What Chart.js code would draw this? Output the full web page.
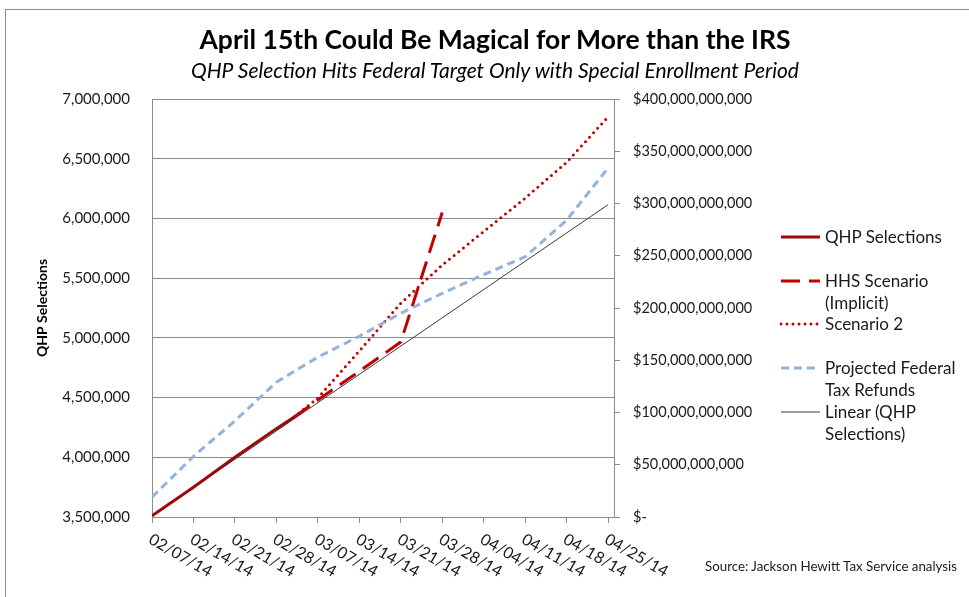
<!DOCTYPE html>
<html>
<head>
<meta charset="utf-8">
<script src="https://cdn.jsdelivr.net/npm/chart.js@4.4.1/dist/chart.umd.min.js"></script>
<style>
  html, body { margin: 0; padding: 0; background: #fff; }
  #wrap { position: relative; width: 969px; height: 597px; overflow: hidden; font-family: Lato, "Open Sans", sans-serif; color: #1a1a1a; }
  #frame { position: absolute; left: 5px; top: 9px; right: -3px; bottom: -3px; border-left: 1px solid #8c8c8c; border-top: 1px solid #8c8c8c; }
  #chart { position: absolute; left: 0; top: 0; }
  .head { position: absolute; left: 95px; width: 800px; text-align: center; white-space: nowrap; color: #000; }
  #title { top: 23px; font-size: 26.5px; font-weight: bold; }
  #subtitle { top: 57px; font-size: 21px; font-style: italic; }
  #legend { position: absolute; left: 780px; top: 226px; font-size: 17px; }
  .leg-item { display: flex; height: 43.7px; line-height: 22px; }
  .leg-item svg { flex: none; margin-right: 5px; }
  #source { position: absolute; left: 705px; top: 558px; font-size: 13.3px; }
</style>
</head>
<body>
<div id="wrap">
  <div id="frame"></div>
  <canvas id="chart" width="969" height="597"></canvas>
  <div id="title" class="head">April 15th Could Be Magical for More than the IRS</div>
  <div id="subtitle" class="head">QHP Selection Hits Federal Target Only with Special Enrollment Period</div>
  <div id="legend"></div>
  <div id="source">Source: Jackson Hewitt Tax Service analysis</div>
</div>
<script>
// weekly tick dates on the x axis (Excel date axis, runs one day past the last tick)
const TICK_DATES = ["02/07/14", "02/14/14", "02/21/14", "02/28/14", "03/07/14", "03/14/14",
  "03/21/14", "03/28/14", "04/04/14", "04/11/14", "04/18/14", "04/25/14"];
const AXIS_END_DATE = "04/26/14";

const QHP_DATES = ["02/07/14", "02/14/14", "02/21/14", "02/28/14", "03/03/14"];
const QHP_VALUES = [3510000, 3750000, 4000000, 4240000, 4337000];

const HHS_DATES = ["03/03/14", "03/07/14", "03/14/14", "03/21/14", "03/28/14"];
const HHS_VALUES = [4337000, 4480000, 4720000, 4965000, 6050000];

const SCEN2_DATES = ["03/03/14", "03/07/14", "03/14/14", "03/21/14", "03/28/14",
  "04/04/14", "04/11/14", "04/18/14", "04/25/14"];
const SCEN2_VALUES = [4337000, 4496000, 4890000, 5290000, 5610000, 5890000, 6170000, 6470000, 6850000];

// projected federal tax refunds, cumulative dollars (right axis)
const REFUND_DATES = TICK_DATES;
const REFUND_VALUES = [19e9, 58e9, 92e9, 129e9, 153e9, 173e9, 195e9, 214e9, 232e9, 249e9, 284e9, 334e9];

const TREND_DATES = ["02/07/14", "04/25/14"];
const TREND_VALUES = [3510000, 6115000];

const LEGEND_LABELS = ["QHP Selections", "HHS Scenario (Implicit)", "Scenario 2",
  "Projected Federal Tax Refunds", "Linear (QHP Selections)"];

const GRID = "#8c8c8c";
const FONT = "Lato, 'Open Sans', sans-serif";

function dayOf(s) {
  const [m, d] = s.split("/").map(Number);
  return (Date.UTC(2014, m - 1, d) - Date.UTC(2014, 1, 7)) / 86400000;
}

function pts(dates, values) {
  return dates.map((d, i) => ({ x: dayOf(d), y: values[i] }));
}

// Excel draws these labels slanting down to the right from each tick
const slantedDates = {
  id: "slantedDates",
  afterDraw(chart) {
    const sc = chart.scales.x;
    const ctx = chart.ctx;
    ctx.save();
    ctx.font = "16px " + FONT;
    ctx.fillStyle = "#1a1a1a";
    ctx.textAlign = "left";
    ctx.textBaseline = "top";
    sc.ticks.forEach((t, i) => {
      ctx.save();
      ctx.translate(sc.getPixelForValue(t.value) + 2, sc.top + 14);
      ctx.rotate(Math.PI / 6);
      ctx.fillText(TICK_DATES[i], 0, 0);
      ctx.restore();
    });
    ctx.restore();
  },
};

const datasets = [
  { label: LEGEND_LABELS[0], data: pts(QHP_DATES, QHP_VALUES), yAxisID: "y",
    borderColor: "#9a0a0a", borderWidth: 3, order: 1 },
  { label: LEGEND_LABELS[1], data: pts(HHS_DATES, HHS_VALUES), yAxisID: "y",
    borderColor: "#c00000", borderWidth: 3, borderDash: [19, 9], order: 2 },
  { label: LEGEND_LABELS[2], data: pts(SCEN2_DATES, SCEN2_VALUES), yAxisID: "y",
    borderColor: "#c00000", borderWidth: 3, borderDash: [0, 6], borderCapStyle: "round", order: 3 },
  { label: LEGEND_LABELS[3], data: pts(REFUND_DATES, REFUND_VALUES), yAxisID: "y2",
    borderColor: "#95b3d7", borderWidth: 3, borderDash: [8, 5], order: 0 },
  { label: LEGEND_LABELS[4], data: pts(TREND_DATES, TREND_VALUES), yAxisID: "y",
    borderColor: "#3a3a3a", borderWidth: 1, order: 4 },
];
datasets.forEach((ds) => { ds.pointRadius = 0; ds.tension = 0; ds.fill = false; });

new Chart(document.getElementById("chart"), {
  type: "line",
  data: { datasets },
  options: {
    responsive: false,
    animation: false,
    layout: { padding: { top: 99, left: 0, right: 0, bottom: 0 } },
    plugins: { legend: { display: false }, tooltip: { enabled: false }, title: { display: false } },
    scales: {
      x: {
        type: "linear",
        min: 0,
        max: dayOf(AXIS_END_DATE),
        afterBuildTicks: (sc) => { sc.ticks = TICK_DATES.map((d) => ({ value: dayOf(d) })); },
        afterFit: (sc) => { sc.height = 80; },
        ticks: { display: false },
        grid: { drawOnChartArea: false, drawTicks: true, tickLength: 6, color: GRID },
        border: { color: GRID },
      },
      y: {
        position: "left",
        min: 3500000,
        max: 7000000,
        afterFit: (sc) => { sc.width = 152; },
        ticks: {
          stepSize: 500000,
          padding: 22,
          color: "#1a1a1a",
          font: { family: FONT, size: 15 },
          callback: (v) => v.toLocaleString("en-US"),
        },
        grid: { color: GRID, drawTicks: false },
        border: { color: GRID },
        title: {
          display: true,
          text: "QHP Selections",
          color: "#000",
          font: { family: FONT, size: 14, weight: "bold" },
          padding: { top: 34, bottom: 0 },
        },
      },
      y2: {
        position: "right",
        min: 0,
        max: 400e9,
        afterFit: (sc) => { sc.width = 355; },
        ticks: {
          stepSize: 50e9,
          padding: 13,
          color: "#1a1a1a",
          font: { family: FONT, size: 14.5 },
          callback: (v) => (v === 0 ? "$-" : "$" + v.toLocaleString("en-US")),
        },
        grid: { drawOnChartArea: false, drawTicks: true, tickLength: 6, color: GRID },
        border: { color: GRID },
      },
    },
  },
  plugins: [slantedDates],
});

// Excel-style legend: each entry gets a two-line slot, sample line beside the first line
function renderLegend() {
  const box = document.getElementById("legend");
  box.innerHTML = datasets.map((ds) => {
    const dash = ds.borderDash ? `stroke-dasharray="${ds.borderDash.join(" ")}"` : "";
    const cap = ds.borderCapStyle === "round" ? "round" : "butt";
    return `<div class="leg-item">
      <svg width="40" height="22"><line x1="1" y1="11" x2="40" y2="11" stroke="${ds.borderColor}"
        stroke-width="${ds.borderWidth}" ${dash} stroke-linecap="${cap}"/></svg>
      <span style="width:150px">${ds.label}</span>
    </div>`;
  }).join("");
}
renderLegend();
</script>
</body>
</html>
